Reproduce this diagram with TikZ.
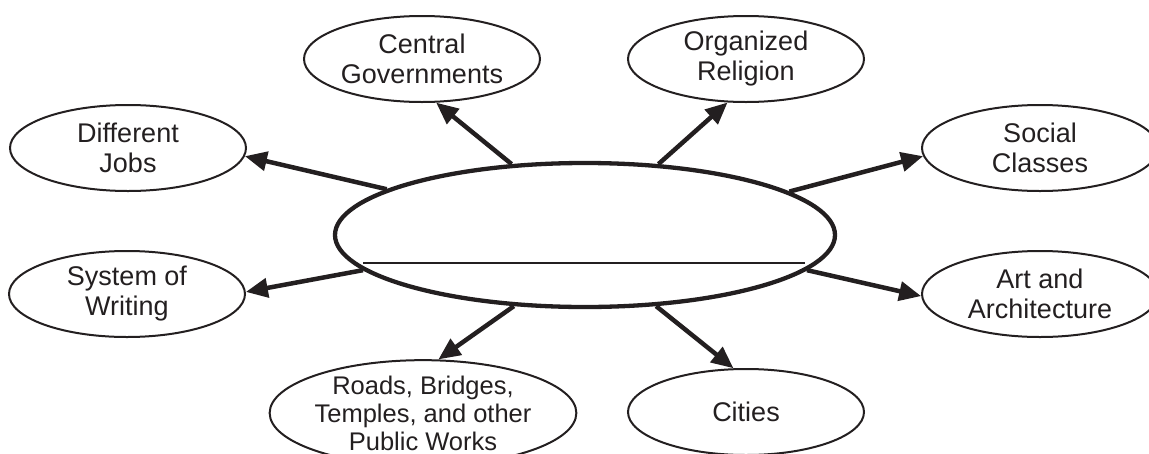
\documentclass[tikz,border=0pt]{standalone}
\usepackage{fontspec}
\setmainfont{Liberation Sans}
\usetikzlibrary{shapes.geometric,arrows.meta}
\definecolor{ink}{RGB}{35,31,32}
\begin{document}
\begin{tikzpicture}[x=1pt,y=-1pt, color=ink,
  bubble/.style={draw=ink, text=ink, ellipse, line width=2pt, inner sep=0pt, minimum width=236pt, minimum height=86pt, align=center, font=\fontsize{27}{30}\selectfont},
  hub/.style={draw=ink, ellipse, line width=4.3pt, inner sep=0pt, minimum width=500pt, minimum height=144pt},
  arr/.style={draw=ink, line width=4.5pt, -{Triangle[length=22pt,width=19pt]}}]
\useasboundingbox (0,0) rectangle (1149,453);
\node[hub] (c) at (585,235) {};
\coordinate (l1) at (363,263);
\coordinate (l2) at (805,263);
\draw[ink, line width=2.5pt] (l1) -- (l2);
\node[bubble] (cg) at (422,59) {Central\\Governments};
\node[bubble] (or) at (746,59) {Organized\\Religion};
\node[bubble] (sc) at (1040,148) {Social\\Classes};
\node[bubble] (dj) at (128,148) {Different\\Jobs};
\node[bubble] (sw) at (127,294) {System of\\Writing};
\node[bubble] (aa) at (1040,294) {Art and\\Architecture};
\node[bubble, minimum width=258pt, minimum height=90pt, font=\fontsize{25.5}{28}\selectfont] (rb) at (423,413) {Roads, Bridges,\\Temples, and other\\Public Works};
\node[bubble] (ci) at (746,412) {Cities};
\draw[arr] (c.136) -- (cg.-72);
\draw[arr] (c.44.6) -- (or.-113.8);
\draw[arr] (c.12.1) -- (sc.184.5);
\draw[arr] (c.167.7) -- (dj.-4.9);
\draw[arr] (c.189.5) -- (sw.1);
\draw[arr] (c.-9.8) -- (aa.181.5);
\draw[arr] (c.-135) -- (rb.74);
\draw[arr] (c.-45.4) -- (ci.106);
\end{tikzpicture}
\end{document}
